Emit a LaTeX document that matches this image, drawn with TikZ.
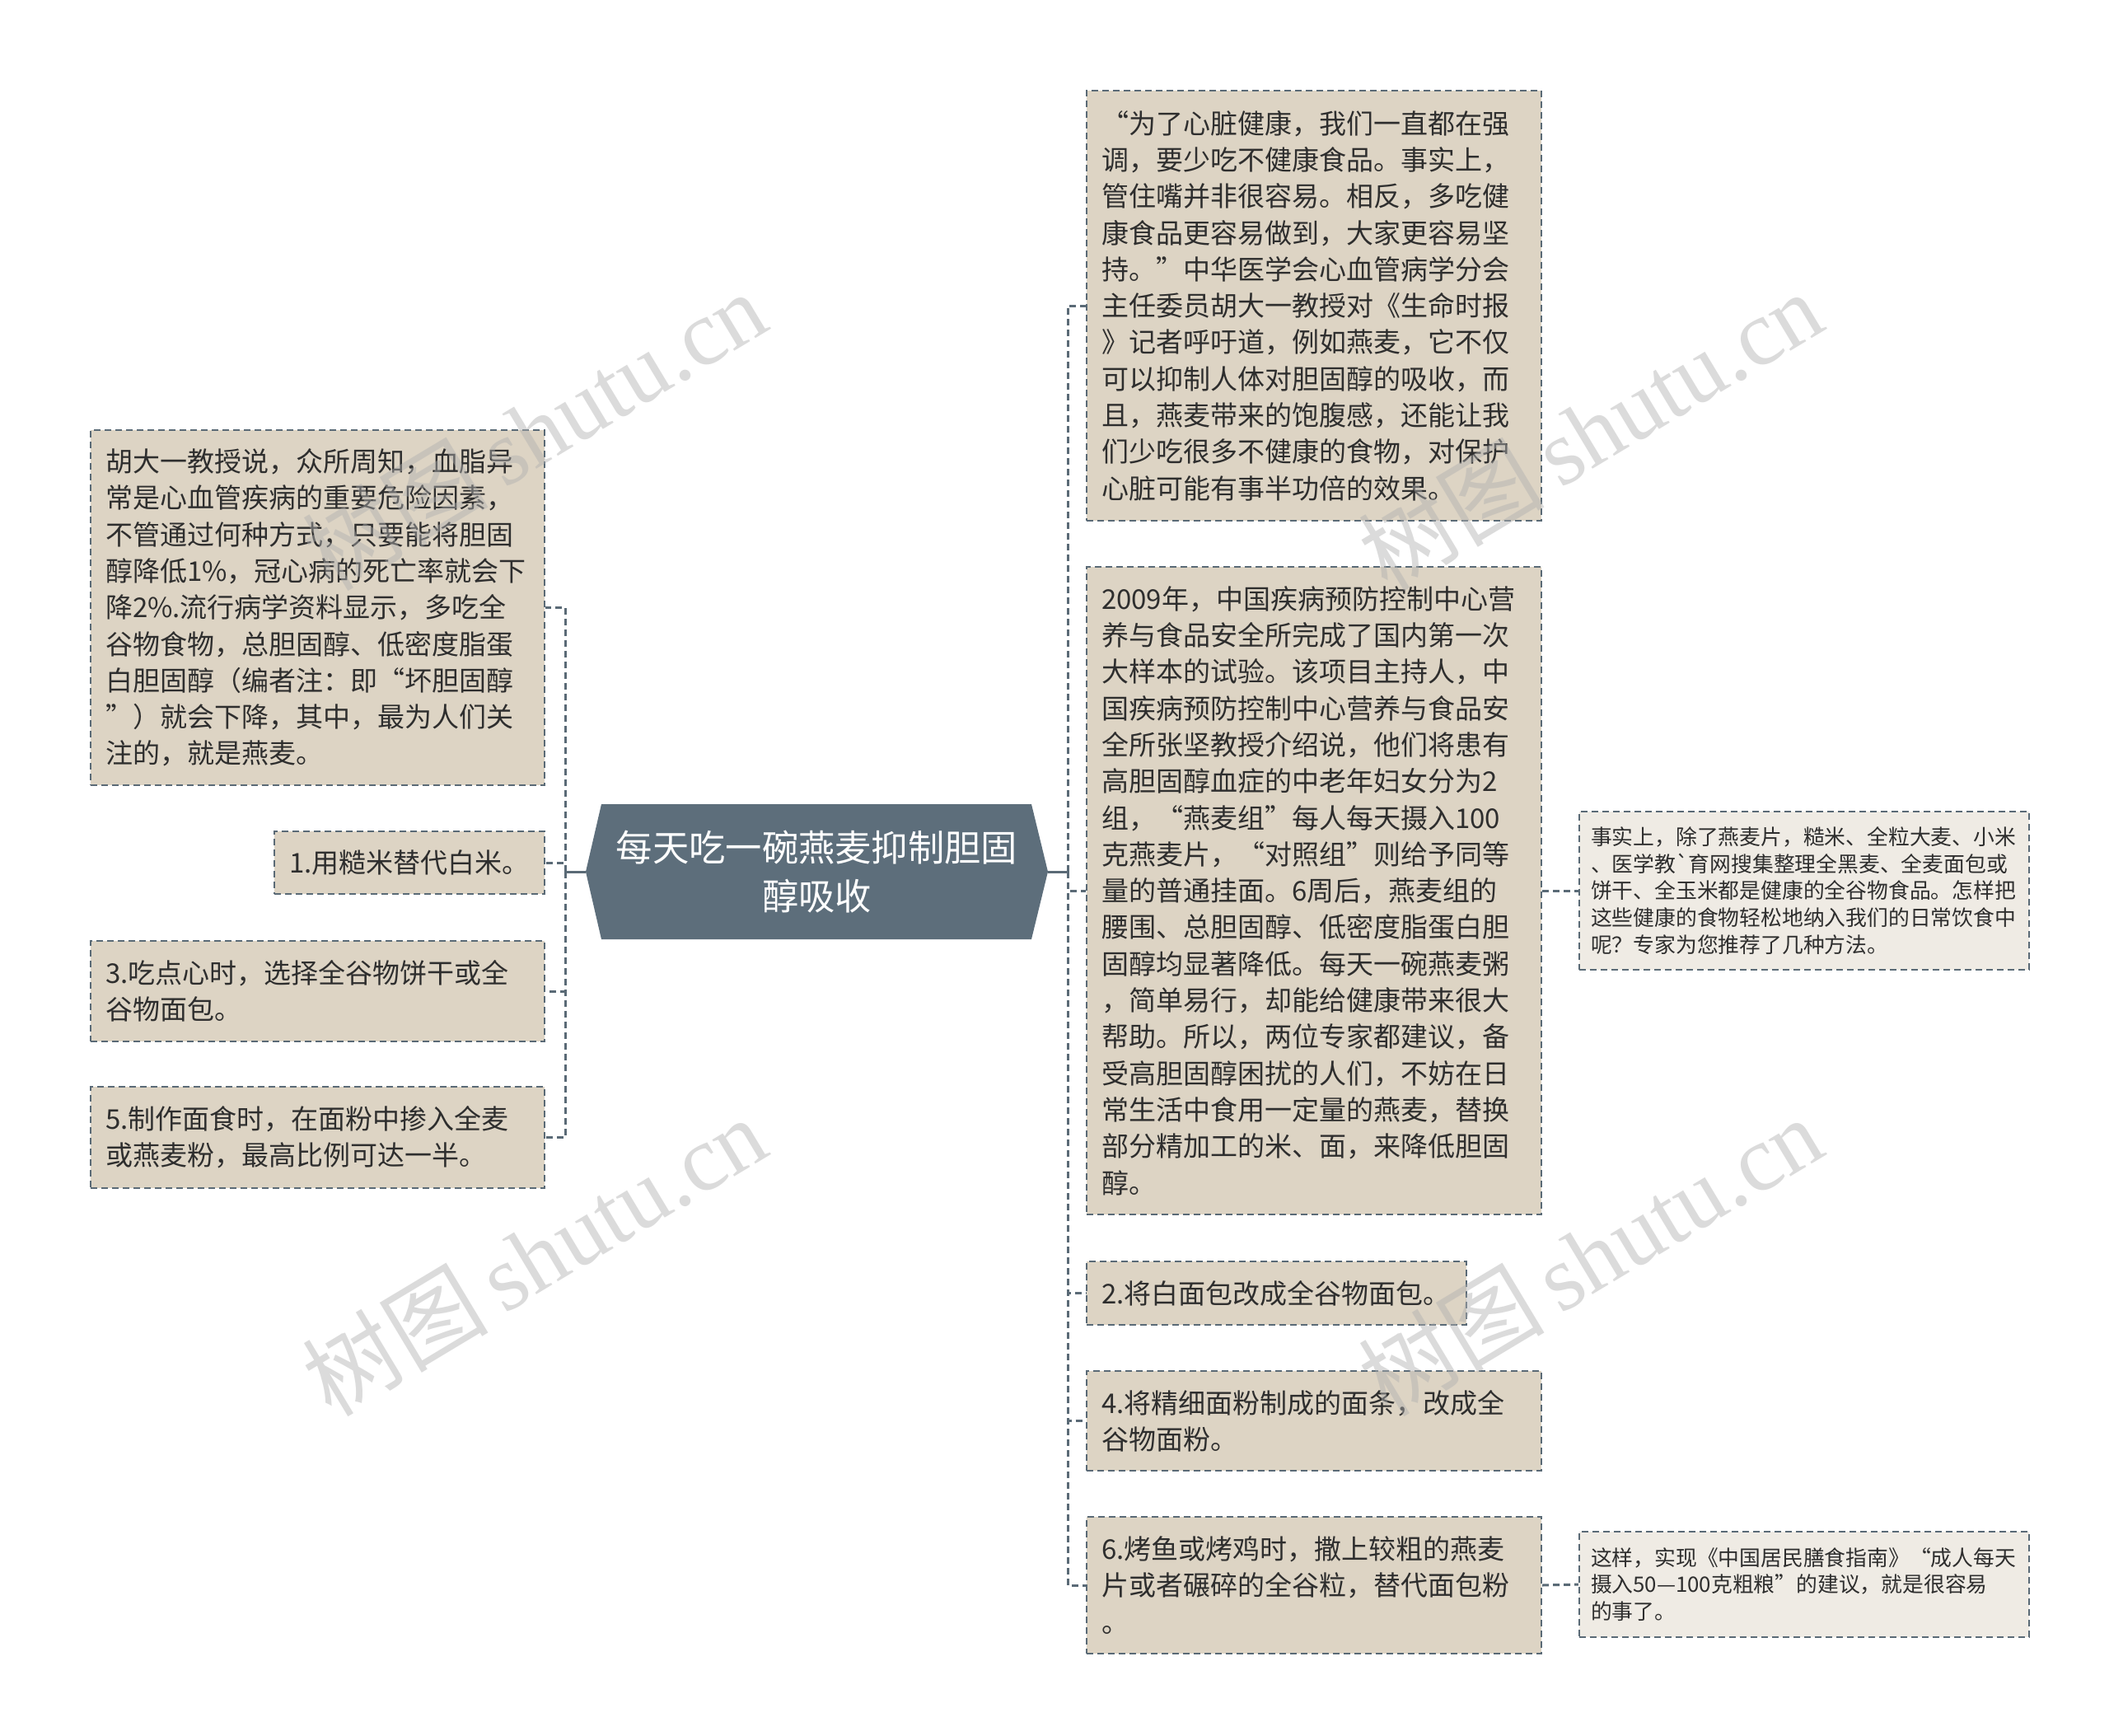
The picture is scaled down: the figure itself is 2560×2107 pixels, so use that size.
\documentclass[tikz,border=0pt]{standalone}
\usepackage{fontspec}
\setmainfont{Noto Sans CJK SC}[Ligatures=TeXOff]
\newfontfamily\wmserif{Liberation Serif}
\definecolor{linec}{HTML}{5A6A76}
\definecolor{hubfill}{HTML}{5D6E7B}
\definecolor{boxfill}{HTML}{DDD4C4}
\definecolor{smallfill}{HTML}{EFEBE4}
\definecolor{txt}{HTML}{2E2E2E}
\definecolor{wmc}{HTML}{B0B0B0}
\begin{document}
\begin{tikzpicture}[x=1pt,y=-1pt,
  box/.style={draw=linec, fill=boxfill, line width=2.2pt, dash pattern=on 8pt off 5pt,
    text=txt, align=left, inner xsep=18pt, inner ysep=0pt,
    font=\fontsize{33}{44.3}\selectfont},
  smallbox/.style={box, fill=smallfill, inner xsep=14pt, font=\fontsize{25.8}{32.8}\selectfont},
  solidc/.style={draw=linec, line width=3pt},
  dashc/.style={draw=linec, line width=3pt, dash pattern=on 8pt off 5pt},
  hubtext/.style={text=white, align=center, font=\fontsize{44.3}{59}\selectfont, inner sep=0pt},
  wm/.style={text=wmc, opacity=0.45, rotate=31, inner sep=0pt}
]
\useasboundingbox (0,0) rectangle (2560,2107);
\fill[white] (0,0) rectangle (2560,2107);

% central hexagon
\coordinate (hubW) at (711,1058);
\coordinate (hubE) at (1272,1058);
\fill[hubfill] (hubW) -- (730,976) -- (1252,976) -- (hubE) -- (1252,1140) -- (730,1140) -- cycle;
\node[hubtext] (hub) at (991.5,1058) {每天吃一碗燕麦抑制胆固\\醇吸收};

% left boxes
\node[box, minimum width=551pt, minimum height=431pt, text width=515pt] (L1) at (385.5,737.5)
{胡大一教授说，众所周知，血脂异\\常是心血管疾病的重要危险因素，\\不管通过何种方式，只要能将胆固\\醇降低1\%，冠心病的死亡率就会下\\降2\%.流行病学资料显示，多吃全\\谷物食物，总胆固醇、低密度脂蛋\\白胆固醇（编者注：即“坏胆固醇\\”）就会下降，其中，最为人们关\\注的，就是燕麦。};
\node[box, minimum width=328pt, minimum height=76pt, text width=292pt] (Lb1) at (497,1047)
{1.用糙米替代白米。};
\node[box, minimum width=551pt, minimum height=122pt, text width=515pt] (Lb3) at (385.5,1203)
{3.吃点心时，选择全谷物饼干或全\\谷物面包。};
\node[box, minimum width=551pt, minimum height=123pt, text width=515pt] (Lb5) at (385.5,1380.5)
{5.制作面食时，在面粉中掺入全麦\\或燕麦粉，最高比例可达一半。};

% right boxes
\node[box, minimum width=552pt, minimum height=522pt, text width=516pt] (R1) at (1595,371)
{“为了心脏健康，我们一直都在强\\调，要少吃不健康食品。事实上，\\管住嘴并非很容易。相反，多吃健\\康食品更容易做到，大家更容易坚\\持。”中华医学会心血管病学分会\\主任委员胡大一教授对《生命时报\\》记者呼吁道，例如燕麦，它不仅\\可以抑制人体对胆固醇的吸收，而\\且，燕麦带来的饱腹感，还能让我\\们少吃很多不健康的食物，对保护\\心脏可能有事半功倍的效果。};
\node[box, minimum width=552pt, minimum height=786pt, text width=516pt] (R2) at (1595,1081)
{2009年，中国疾病预防控制中心营\\养与食品安全所完成了国内第一次\\大样本的试验。该项目主持人，中\\国疾病预防控制中心营养与食品安\\全所张坚教授介绍说，他们将患有\\高胆固醇血症的中老年妇女分为2\\组，“燕麦组”每人每天摄入100\\克燕麦片，“对照组”则给予同等\\量的普通挂面。6周后，燕麦组的\\腰围、总胆固醇、低密度脂蛋白胆\\固醇均显著降低。每天一碗燕麦粥\\，简单易行，却能给健康带来很大\\帮助。所以，两位专家都建议，备\\受高胆固醇困扰的人们，不妨在日\\常生活中食用一定量的燕麦，替换\\部分精加工的米、面，来降低胆固\\醇。};
\node[box, minimum width=461pt, minimum height=77pt, text width=425pt] (Rb2) at (1549.5,1569.5)
{2.将白面包改成全谷物面包。};
\node[box, minimum width=552pt, minimum height=121pt, text width=516pt] (Rb4) at (1595,1724.5)
{4.将精细面粉制成的面条，改成全\\谷物面粉。};
\node[box, minimum width=552pt, minimum height=166pt, text width=516pt] (Rb6) at (1595,1924)
{6.烤鱼或烤鸡时，撒上较粗的燕麦\\片或者碾碎的全谷粒，替代面包粉\\。};

% small boxes
\node[smallbox, minimum width=546pt, minimum height=192pt, text width=518pt] (SA) at (2190,1081)
{事实上，除了燕麦片，糙米、全粒大麦、小米\\、医学教\symbol{96}育网搜集整理全黑麦、全麦面包或\\饼干、全玉米都是健康的全谷物食品。怎样把\\这些健康的食物轻松地纳入我们的日常饮食中\\呢？专家为您推荐了几种方法。};
\node[smallbox, minimum width=546pt, minimum height=128pt, text width=518pt] (SB) at (2190,1923)
{这样，实现《中国居民膳食指南》“成人每天\\摄入50—100克粗粮”的建议，就是很容易\\的事了。};

% connectors
\coordinate (lj) at (686,1058);
\coordinate (rj) at (1296,1058);
\draw[solidc] (hubW) -- (lj);
\draw[solidc] (hubE) -- (rj);
\draw[dashc] (lj) |- (L1.east);
\draw[dashc] (lj) |- (Lb1.east);
\draw[dashc] (lj) |- (Lb3.east);
\draw[dashc] (lj) |- (Lb5.east);
\draw[dashc] (rj) |- (R1.west);
\draw[dashc] (rj) |- (R2.west);
\draw[dashc] (rj) |- (Rb2.west);
\draw[dashc] (rj) |- (Rb4.west);
\draw[dashc] (rj) |- (Rb6.west);
\draw[dashc] (R2.east) -- (SA.west);
\draw[dashc] (Rb6.east) -- (SB.west);

% watermarks
\node[wm] (wm1) at (648,522) {\fontsize{113}{113}\selectfont 树图\,{\wmserif shutu.cn}};
\node[wm] (wm2) at (1930,522) {\fontsize{113}{113}\selectfont 树图\,{\wmserif shutu.cn}};
\node[wm] (wm3) at (648,1524) {\fontsize{113}{113}\selectfont 树图\,{\wmserif shutu.cn}};
\node[wm] (wm4) at (1930,1524) {\fontsize{113}{113}\selectfont 树图\,{\wmserif shutu.cn}};
\end{tikzpicture}
\end{document}
